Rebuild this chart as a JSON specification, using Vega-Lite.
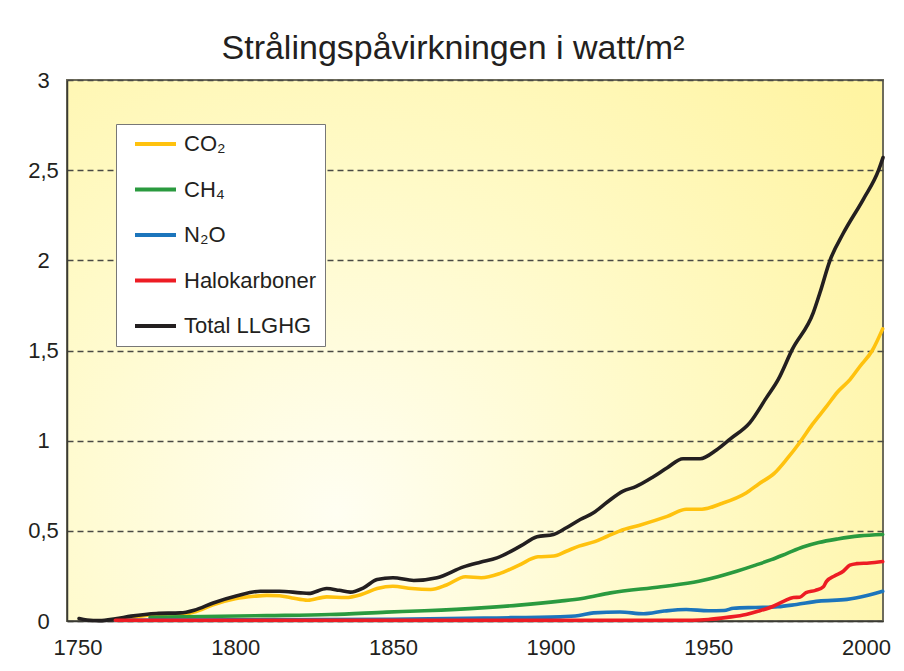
{
  "$schema": "https://vega.github.io/schema/vega-lite/v6.json",
  "width": 816,
  "height": 541,
  "autosize": {"type": "none"},
  "padding": {"left": 67, "top": 80, "right": 21, "bottom": 50},
  "background": "white",
  "title": {
    "text": "Strålingspåvirkningen i watt/m²",
    "font": "Liberation Sans",
    "fontSize": 34,
    "fontWeight": "normal",
    "color": "#231F20",
    "anchor": "middle",
    "baseline": "alphabetic",
    "offset": -24,
    "dx": -22
  },
  "config": {
    "view": {
      "stroke": "#6E6C5C",
      "strokeWidth": 2,
      "fill": {
        "gradient": "radial",
        "x1": 0.33, "y1": 0.7, "r1": 0,
        "x2": 0.33, "y2": 0.7, "r2": 0.82,
        "stops": [
          {"offset": 0, "color": "#FFFEF2"},
          {"offset": 0.5, "color": "#FFFAC8"},
          {"offset": 1, "color": "#FFF4A2"}
        ]
      }
    },
    "axis": {
      "labelFont": "Liberation Sans",
      "labelFontSize": 22,
      "labelColor": "#231F20",
      "ticks": false,
      "tickSize": 0,
      "domainColor": "#3A3A33",
      "domainWidth": 1.5,
      "title": null
    }
  },
  "data": {
    "values": [
      {"year": 1762, "v": 0.005, "s": "CO₂"},
      {"year": 1767, "v": 0.018, "s": "CO₂"},
      {"year": 1775, "v": 0.036, "s": "CO₂"},
      {"year": 1782, "v": 0.036, "s": "CO₂"},
      {"year": 1787, "v": 0.05, "s": "CO₂"},
      {"year": 1793, "v": 0.09, "s": "CO₂"},
      {"year": 1800, "v": 0.123, "s": "CO₂"},
      {"year": 1806, "v": 0.137, "s": "CO₂"},
      {"year": 1810, "v": 0.142, "s": "CO₂"},
      {"year": 1814, "v": 0.14, "s": "CO₂"},
      {"year": 1818, "v": 0.128, "s": "CO₂"},
      {"year": 1823, "v": 0.115, "s": "CO₂"},
      {"year": 1829, "v": 0.134, "s": "CO₂"},
      {"year": 1835, "v": 0.13, "s": "CO₂"},
      {"year": 1840, "v": 0.147, "s": "CO₂"},
      {"year": 1845, "v": 0.18, "s": "CO₂"},
      {"year": 1850, "v": 0.193, "s": "CO₂"},
      {"year": 1856, "v": 0.18, "s": "CO₂"},
      {"year": 1862, "v": 0.175, "s": "CO₂"},
      {"year": 1867, "v": 0.2, "s": "CO₂"},
      {"year": 1873, "v": 0.245, "s": "CO₂"},
      {"year": 1878, "v": 0.24, "s": "CO₂"},
      {"year": 1884, "v": 0.264, "s": "CO₂"},
      {"year": 1890, "v": 0.31, "s": "CO₂"},
      {"year": 1896, "v": 0.356, "s": "CO₂"},
      {"year": 1901, "v": 0.36, "s": "CO₂"},
      {"year": 1905, "v": 0.387, "s": "CO₂"},
      {"year": 1909, "v": 0.415, "s": "CO₂"},
      {"year": 1914, "v": 0.44, "s": "CO₂"},
      {"year": 1918, "v": 0.47, "s": "CO₂"},
      {"year": 1922, "v": 0.5, "s": "CO₂"},
      {"year": 1928, "v": 0.53, "s": "CO₂"},
      {"year": 1937, "v": 0.58, "s": "CO₂"},
      {"year": 1943, "v": 0.62, "s": "CO₂"},
      {"year": 1948, "v": 0.62, "s": "CO₂"},
      {"year": 1954, "v": 0.65, "s": "CO₂"},
      {"year": 1962, "v": 0.71, "s": "CO₂"},
      {"year": 1966, "v": 0.76, "s": "CO₂"},
      {"year": 1971, "v": 0.82, "s": "CO₂"},
      {"year": 1975, "v": 0.9, "s": "CO₂"},
      {"year": 1979, "v": 0.99, "s": "CO₂"},
      {"year": 1983, "v": 1.09, "s": "CO₂"},
      {"year": 1987.5, "v": 1.19, "s": "CO₂"},
      {"year": 1991, "v": 1.27, "s": "CO₂"},
      {"year": 1995, "v": 1.34, "s": "CO₂"},
      {"year": 1998, "v": 1.41, "s": "CO₂"},
      {"year": 2002, "v": 1.5, "s": "CO₂"},
      {"year": 2005.3, "v": 1.62, "s": "CO₂"},

      {"year": 1773, "v": 0.02, "s": "CH₄"},
      {"year": 1790, "v": 0.025, "s": "CH₄"},
      {"year": 1810, "v": 0.03, "s": "CH₄"},
      {"year": 1830, "v": 0.036, "s": "CH₄"},
      {"year": 1848, "v": 0.049, "s": "CH₄"},
      {"year": 1860, "v": 0.057, "s": "CH₄"},
      {"year": 1878, "v": 0.073, "s": "CH₄"},
      {"year": 1890, "v": 0.088, "s": "CH₄"},
      {"year": 1903, "v": 0.11, "s": "CH₄"},
      {"year": 1910, "v": 0.125, "s": "CH₄"},
      {"year": 1919, "v": 0.156, "s": "CH₄"},
      {"year": 1935, "v": 0.19, "s": "CH₄"},
      {"year": 1947, "v": 0.22, "s": "CH₄"},
      {"year": 1953, "v": 0.245, "s": "CH₄"},
      {"year": 1959, "v": 0.276, "s": "CH₄"},
      {"year": 1965, "v": 0.31, "s": "CH₄"},
      {"year": 1970, "v": 0.34, "s": "CH₄"},
      {"year": 1975, "v": 0.375, "s": "CH₄"},
      {"year": 1980, "v": 0.41, "s": "CH₄"},
      {"year": 1985, "v": 0.435, "s": "CH₄"},
      {"year": 1991, "v": 0.455, "s": "CH₄"},
      {"year": 1998, "v": 0.472, "s": "CH₄"},
      {"year": 2005.3, "v": 0.48, "s": "CH₄"},

      {"year": 1762, "v": 0.004, "s": "N₂O"},
      {"year": 1800, "v": 0.006, "s": "N₂O"},
      {"year": 1850, "v": 0.01, "s": "N₂O"},
      {"year": 1880, "v": 0.017, "s": "N₂O"},
      {"year": 1903, "v": 0.023, "s": "N₂O"},
      {"year": 1909, "v": 0.03, "s": "N₂O"},
      {"year": 1913.6, "v": 0.045, "s": "N₂O"},
      {"year": 1922, "v": 0.05, "s": "N₂O"},
      {"year": 1929.5, "v": 0.04, "s": "N₂O"},
      {"year": 1936, "v": 0.055, "s": "N₂O"},
      {"year": 1943, "v": 0.064, "s": "N₂O"},
      {"year": 1950, "v": 0.057, "s": "N₂O"},
      {"year": 1955, "v": 0.058, "s": "N₂O"},
      {"year": 1958, "v": 0.071, "s": "N₂O"},
      {"year": 1965, "v": 0.075, "s": "N₂O"},
      {"year": 1972, "v": 0.079, "s": "N₂O"},
      {"year": 1978, "v": 0.092, "s": "N₂O"},
      {"year": 1985, "v": 0.11, "s": "N₂O"},
      {"year": 1994, "v": 0.12, "s": "N₂O"},
      {"year": 2000, "v": 0.14, "s": "N₂O"},
      {"year": 2005.3, "v": 0.165, "s": "N₂O"},

      {"year": 1750.5, "v": 0.014, "s": "Total LLGHG"},
      {"year": 1753, "v": 0.006, "s": "Total LLGHG"},
      {"year": 1757, "v": 0.002, "s": "Total LLGHG"},
      {"year": 1762, "v": 0.012, "s": "Total LLGHG"},
      {"year": 1767, "v": 0.027, "s": "Total LLGHG"},
      {"year": 1775, "v": 0.042, "s": "Total LLGHG"},
      {"year": 1782.6, "v": 0.045, "s": "Total LLGHG"},
      {"year": 1787, "v": 0.06, "s": "Total LLGHG"},
      {"year": 1793, "v": 0.1, "s": "Total LLGHG"},
      {"year": 1800.6, "v": 0.14, "s": "Total LLGHG"},
      {"year": 1808, "v": 0.165, "s": "Total LLGHG"},
      {"year": 1814, "v": 0.165, "s": "Total LLGHG"},
      {"year": 1820.7, "v": 0.156, "s": "Total LLGHG"},
      {"year": 1823.3, "v": 0.153, "s": "Total LLGHG"},
      {"year": 1829, "v": 0.18, "s": "Total LLGHG"},
      {"year": 1833, "v": 0.17, "s": "Total LLGHG"},
      {"year": 1836.5, "v": 0.16, "s": "Total LLGHG"},
      {"year": 1840.7, "v": 0.184, "s": "Total LLGHG"},
      {"year": 1845, "v": 0.23, "s": "Total LLGHG"},
      {"year": 1850, "v": 0.24, "s": "Total LLGHG"},
      {"year": 1856.6, "v": 0.225, "s": "Total LLGHG"},
      {"year": 1864, "v": 0.24, "s": "Total LLGHG"},
      {"year": 1872.4, "v": 0.3, "s": "Total LLGHG"},
      {"year": 1877.7, "v": 0.326, "s": "Total LLGHG"},
      {"year": 1883, "v": 0.35, "s": "Total LLGHG"},
      {"year": 1890.4, "v": 0.415, "s": "Total LLGHG"},
      {"year": 1895.7, "v": 0.467, "s": "Total LLGHG"},
      {"year": 1900.9, "v": 0.48, "s": "Total LLGHG"},
      {"year": 1905, "v": 0.517, "s": "Total LLGHG"},
      {"year": 1909.4, "v": 0.563, "s": "Total LLGHG"},
      {"year": 1913.6, "v": 0.6, "s": "Total LLGHG"},
      {"year": 1918, "v": 0.66, "s": "Total LLGHG"},
      {"year": 1923, "v": 0.72, "s": "Total LLGHG"},
      {"year": 1927, "v": 0.745, "s": "Total LLGHG"},
      {"year": 1932.6, "v": 0.8, "s": "Total LLGHG"},
      {"year": 1937, "v": 0.85, "s": "Total LLGHG"},
      {"year": 1942, "v": 0.9, "s": "Total LLGHG"},
      {"year": 1947.4, "v": 0.9, "s": "Total LLGHG"},
      {"year": 1952.7, "v": 0.95, "s": "Total LLGHG"},
      {"year": 1957, "v": 1.01, "s": "Total LLGHG"},
      {"year": 1963.2, "v": 1.1, "s": "Total LLGHG"},
      {"year": 1968.5, "v": 1.24, "s": "Total LLGHG"},
      {"year": 1972.2, "v": 1.34, "s": "Total LLGHG"},
      {"year": 1976.6, "v": 1.505, "s": "Total LLGHG"},
      {"year": 1983.3, "v": 1.71, "s": "Total LLGHG"},
      {"year": 1985.4, "v": 1.82, "s": "Total LLGHG"},
      {"year": 1988.6, "v": 2.0, "s": "Total LLGHG"},
      {"year": 1992.8, "v": 2.15, "s": "Total LLGHG"},
      {"year": 1999.2, "v": 2.34, "s": "Total LLGHG"},
      {"year": 2004, "v": 2.5, "s": "Total LLGHG"},
      {"year": 2005.4, "v": 2.57, "s": "Total LLGHG"},

      {"year": 1762, "v": 0.004, "s": "Halokarboner"},
      {"year": 1900, "v": 0.004, "s": "Halokarboner"},
      {"year": 1945, "v": 0.004, "s": "Halokarboner"},
      {"year": 1950, "v": 0.008, "s": "Halokarboner"},
      {"year": 1956, "v": 0.02, "s": "Halokarboner"},
      {"year": 1962, "v": 0.036, "s": "Halokarboner"},
      {"year": 1966, "v": 0.055, "s": "Halokarboner"},
      {"year": 1970.6, "v": 0.082, "s": "Halokarboner"},
      {"year": 1974, "v": 0.11, "s": "Halokarboner"},
      {"year": 1977, "v": 0.13, "s": "Halokarboner"},
      {"year": 1979, "v": 0.132, "s": "Halokarboner"},
      {"year": 1981, "v": 0.157, "s": "Halokarboner"},
      {"year": 1984, "v": 0.17, "s": "Halokarboner"},
      {"year": 1986.5, "v": 0.19, "s": "Halokarboner"},
      {"year": 1987.5, "v": 0.22, "s": "Halokarboner"},
      {"year": 1990, "v": 0.25, "s": "Halokarboner"},
      {"year": 1992.8, "v": 0.276, "s": "Halokarboner"},
      {"year": 1994.9, "v": 0.31, "s": "Halokarboner"},
      {"year": 1997, "v": 0.318, "s": "Halokarboner"},
      {"year": 2001, "v": 0.322, "s": "Halokarboner"},
      {"year": 2005.3, "v": 0.33, "s": "Halokarboner"}
    ]
  },
  "mark": {"type": "line", "strokeWidth": 3.6, "interpolate": "monotone", "strokeCap": "round"},
  "encoding": {
    "x": {
      "field": "year",
      "type": "quantitative",
      "scale": {"domain": [1746.67, 2005.4], "nice": false, "zero": false},
      "axis": {
        "values": [1750, 1800, 1850, 1900, 1950, 2000],
        "format": "d",
        "grid": false,
        "labelPadding": 16,
        "labelFlush": false
      }
    },
    "y": {
      "field": "v",
      "type": "quantitative",
      "scale": {"domain": [0, 3], "nice": false},
      "axis": {
        "values": [0, 0.5, 1, 1.5, 2, 2.5, 3],
        "labelExpr": "replace(toString(datum.value), '.', ',')",
        "labelAlign": "center",
        "labelBaseline": "middle",
        "labelPadding": 24,
        "labelFlush": false,
        "grid": true,
        "gridColor": "#4A4A44",
        "gridDash": [6, 4],
        "gridWidth": 1.3
      }
    },
    "color": {
      "field": "s",
      "type": "nominal",
      "scale": {
        "domain": ["CO₂", "CH₄", "N₂O", "Halokarboner", "Total LLGHG"],
        "range": ["#FFC20E", "#2A9A3F", "#1C75BC", "#ED1C24", "#231F20"]
      },
      "legend": {
        "title": null,
        "orient": "none",
        "legendX": 49,
        "legendY": 44,
        "direction": "vertical",
        "fillColor": "white",
        "strokeColor": "#777777",
        "padding": 8,
        "clipHeight": 24,
        "symbolType": "stroke",
        "symbolSize": 1681,
        "symbolStrokeWidth": 4,
        "symbolOffset": 9,
        "labelFont": "Liberation Sans",
        "labelFontSize": 22,
        "labelColor": "#231F20",
        "labelOffset": 6,
        "rowPadding": 21.5,
        "labelLimit": 300
      }
    }
  }
}
